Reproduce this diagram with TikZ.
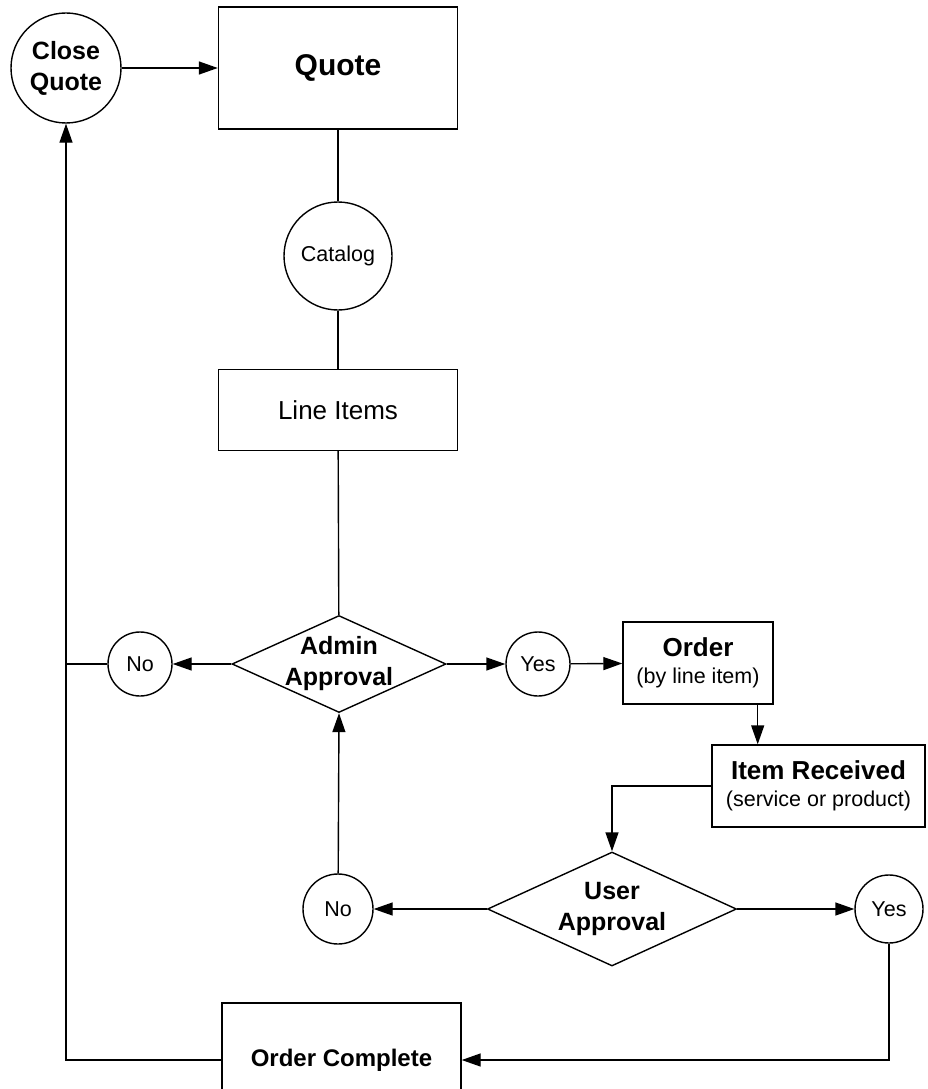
\documentclass[tikz,border=0pt]{standalone}
\usepackage{fontspec}
\setmainfont{Liberation Sans}
\usetikzlibrary{positioning, shapes.geometric, arrows.meta, calc}

\begin{document}
\begin{tikzpicture}[x=1pt, y=-1pt, line width=1.4pt,
		box/.style={draw, rectangle, inner sep=0pt, align=center},
		circ/.style={draw, circle, inner sep=0pt, align=center},
		decision/.style={draw, diamond, inner sep=0pt},
		arr/.style={-{Triangle[length=19pt, width=13pt]}},
		head/.style={font=\bfseries\fontsize{25}{31}\selectfont, align=center},
		plain/.style={font=\fontsize{21.5}{27}\selectfont}
		]
		\clip (0,0) rectangle (928,1089);
		
		\node[circ, minimum size=110pt, head] (cq) at (66,68) {Close\\Quote};
		\node[box, minimum width=239pt, minimum height=122pt, font=\bfseries\fontsize{30}{34}\selectfont] (quote) at (338,68) {Quote};
		\node[circ, minimum size=108pt, plain] (cat) at (338,256) {Catalog};
		\node[box, minimum width=239pt, minimum height=81pt, font=\fontsize{26}{30}\selectfont] (items) at (338,410) {Line Items};
		
		\node[decision, minimum width=214pt, minimum height=97pt, label={[head]center:Admin\\Approval}] (admin) at (339,664) {};
		\node[circ, minimum size=64pt, plain] (no1) at (140,664) {No};
		\node[circ, minimum size=64pt, plain] (yes1) at (538,664) {Yes};
		\node[box, minimum width=150pt, minimum height=82pt, plain] (order) at (698,663) {{\bfseries\fontsize{26}{28}\selectfont Order}\\(by line item)};
		\node[box, minimum width=213pt, minimum height=82pt, plain] (recv) at (818.5,786) {{\bfseries\fontsize{26}{28}\selectfont Item Received}\\(service or product)};
		
		\node[decision, minimum width=249pt, minimum height=114pt, label={[head]center:User\\Approval}] (user) at (612,909) {};
		\node[circ, minimum size=70pt, plain] (no2) at (338,909) {No};
		\node[circ, minimum size=68pt, plain] (yes2) at (889,909) {Yes};
		\node[box, minimum width=239pt, minimum height=114pt, font=\bfseries\fontsize{24}{28}\selectfont] (done) at (341.5,1060) {Order Complete};
		
		% top column
		\draw[arr] (cq) -- (quote);
		\draw (quote) -- (cat);
		\draw (cat) -- (items);
		\draw (items) -- (admin);
		
		% admin decision
		\draw[arr] (admin.west) -- (no1);
		\draw (no1.west) -- (no1.west -| cq.south);
		\draw[arr] (admin.east) -- (yes1);
		\draw[arr] (yes1) -- (order);
		\coordinate (o1) at ($(order.south east)+(-16,0)$);
		\draw[arr] (o1) -- (o1 |- recv.north);
		\draw[arr] (recv.west) -| (user.north);
		
		% user decision
		\draw[arr] (user.west) -- (no2);
		\draw[arr] (no2) -- (admin.south);
		\draw[arr] (user.east) -- (yes2);
		\draw[arr] (yes2.south) |- (done.east);
		\draw[arr] (done.west) -| (cq.south);
	\end{tikzpicture}
\end{document}
